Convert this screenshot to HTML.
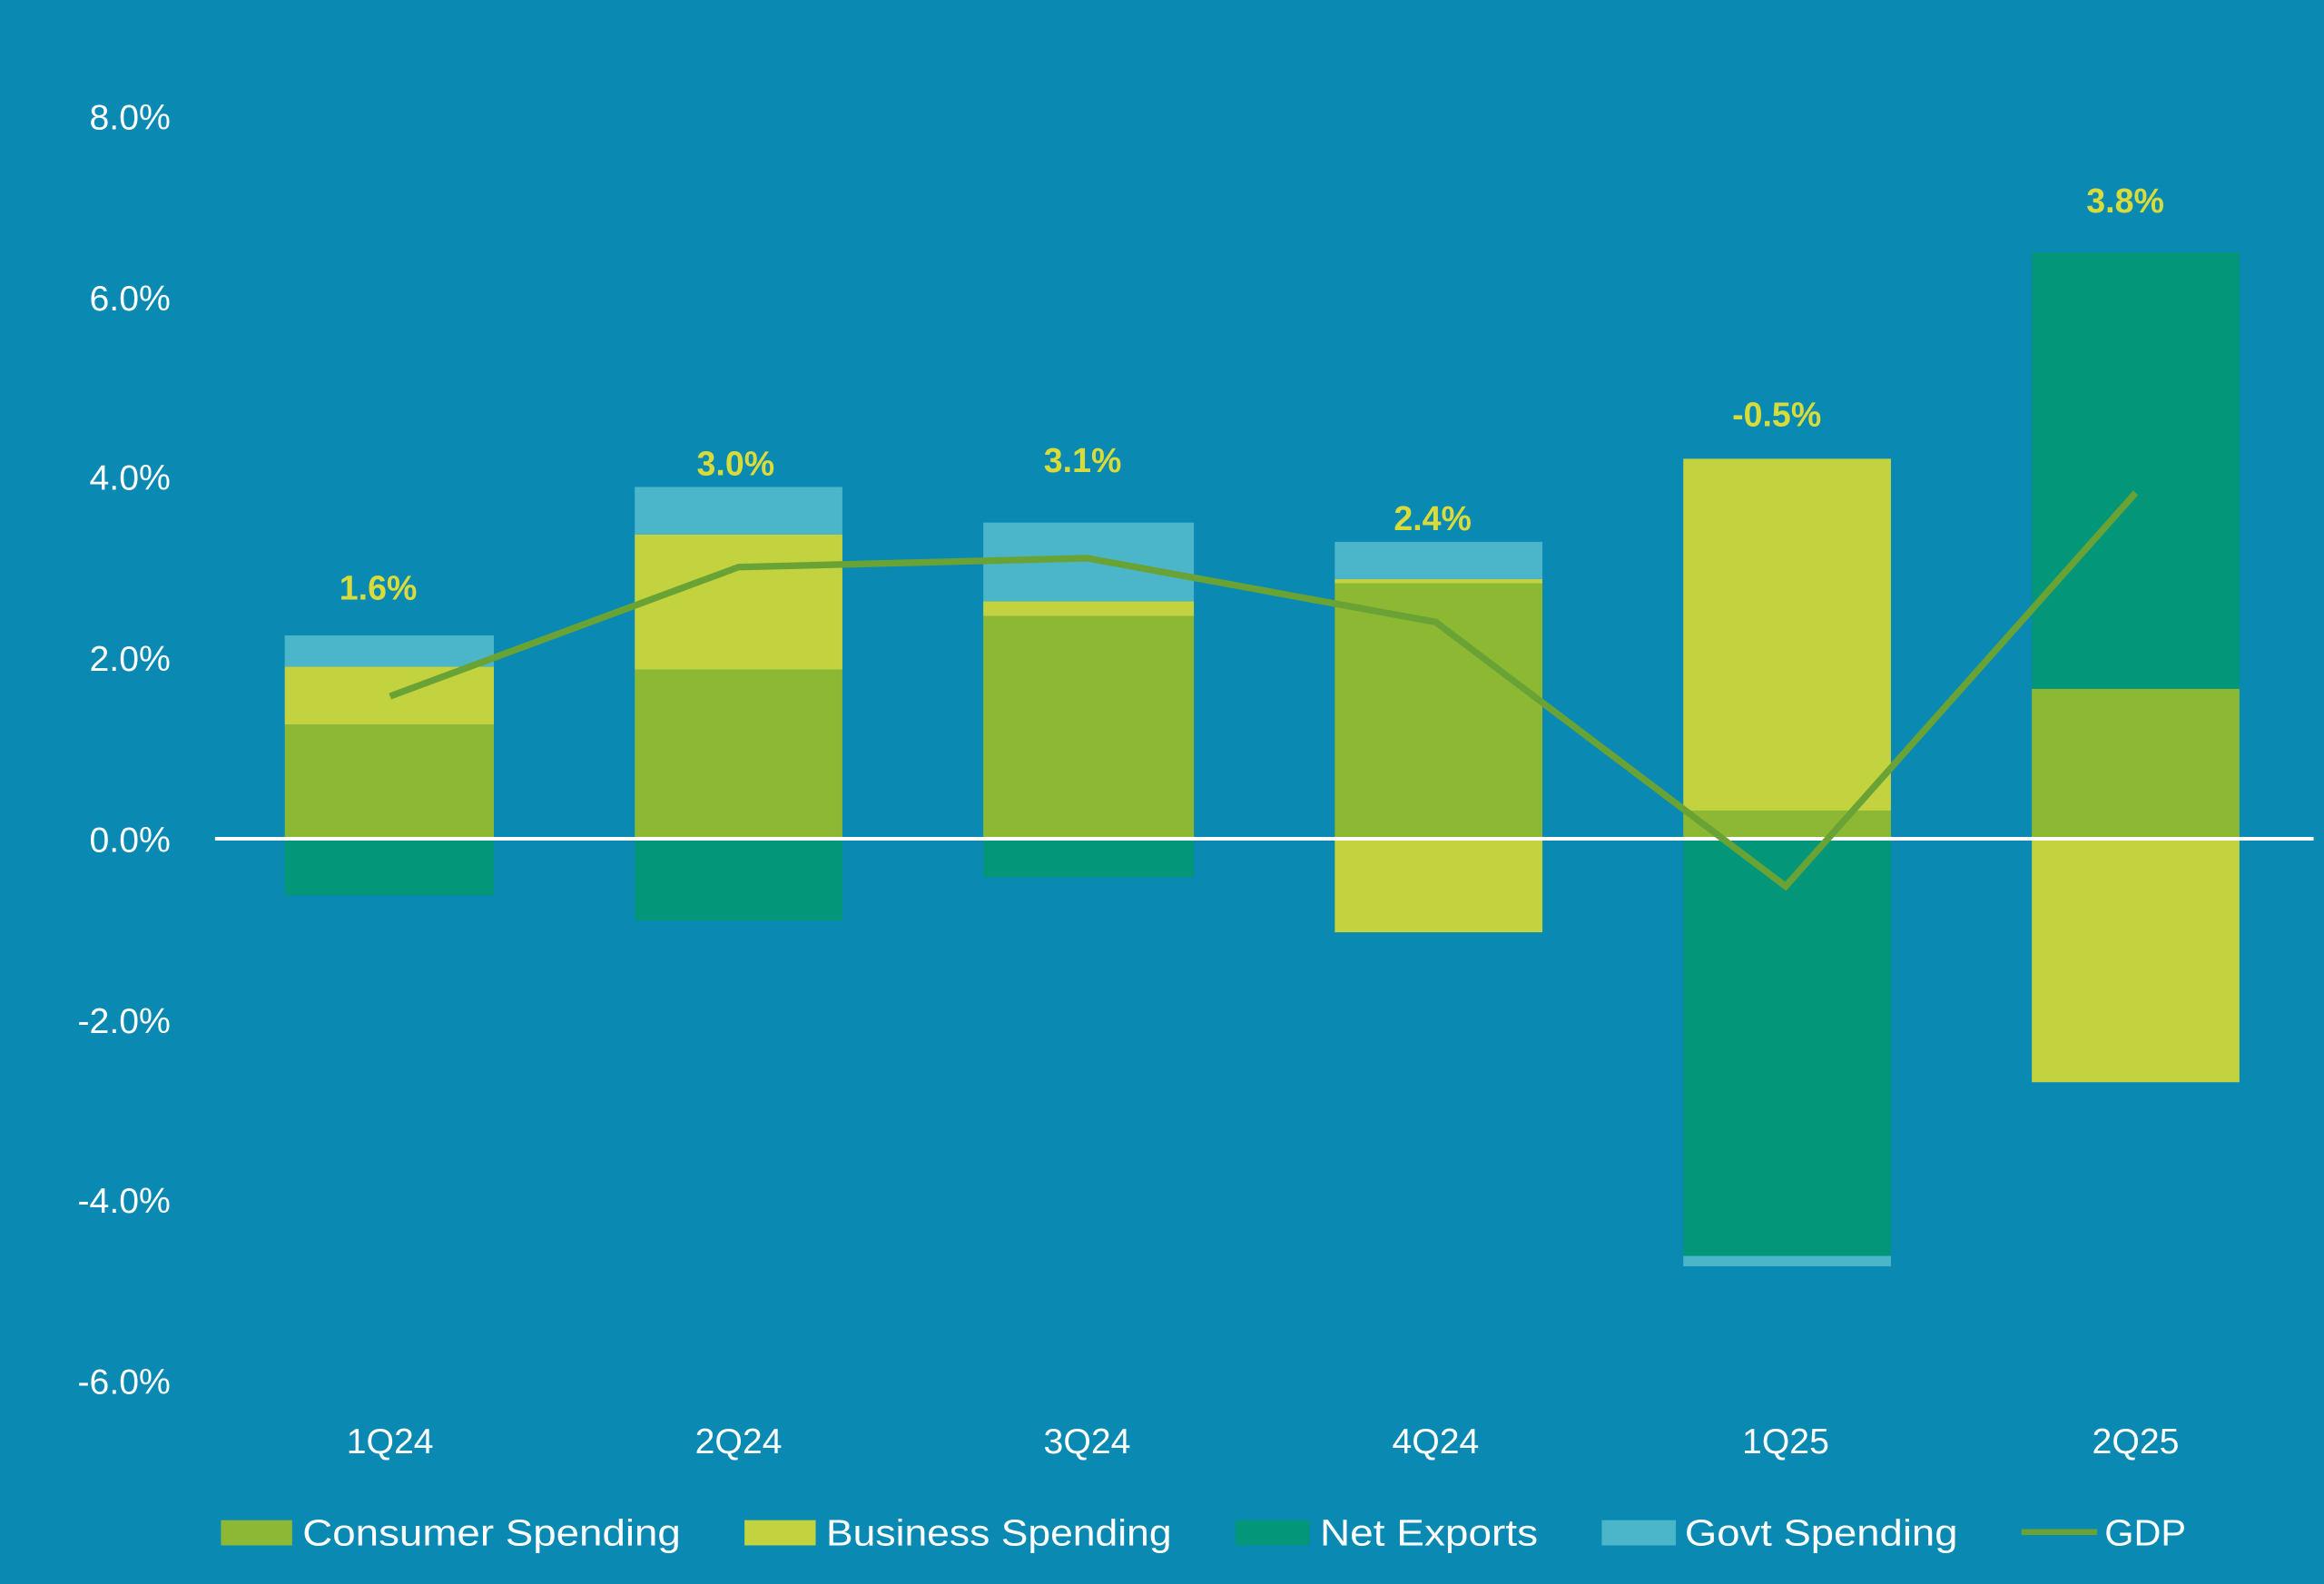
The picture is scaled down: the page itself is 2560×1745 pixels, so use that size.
<!DOCTYPE html>
<html><head><meta charset="utf-8"><style>
html,body{margin:0;padding:0;background:#0a89b3;}
svg{display:block}
text{font-family:"Liberation Sans",sans-serif;}
</style></head><body>
<svg width="2560" height="1745" viewBox="0 0 1567 1067" preserveAspectRatio="none" xmlns="http://www.w3.org/2000/svg">
<rect width="1567" height="1067" fill="#0a89b3"/>
<g fill="#ffffff" font-size="24" text-anchor="end">
<text x="115" y="87">8.0%</text>
<text x="115" y="209">6.0%</text>
<text x="115" y="330">4.0%</text>
<text x="115" y="452">2.0%</text>
<text x="115" y="574">0.0%</text>
<text x="115" y="696">-2.0%</text>
<text x="115" y="817">-4.0%</text>
<text x="115" y="939">-6.0%</text>
</g>
<rect x="192" y="488" width="141" height="77" fill="#8cb833"/>
<rect x="192" y="449" width="141" height="39" fill="#c3d23f"/>
<rect x="192" y="428" width="141" height="21" fill="#4bb5c9"/>
<rect x="192" y="565" width="141" height="38" fill="#049679"/>
<rect x="428" y="451" width="140" height="114" fill="#8cb833"/>
<rect x="428" y="360" width="140" height="91" fill="#c3d23f"/>
<rect x="428" y="328" width="140" height="32" fill="#4bb5c9"/>
<rect x="428" y="565" width="140" height="55" fill="#049679"/>
<rect x="663" y="415" width="142" height="150" fill="#8cb833"/>
<rect x="663" y="405" width="142" height="10" fill="#c3d23f"/>
<rect x="663" y="352" width="142" height="53" fill="#4bb5c9"/>
<rect x="663" y="565" width="142" height="26" fill="#049679"/>
<rect x="900" y="393" width="140" height="172" fill="#8cb833"/>
<rect x="900" y="390" width="140" height="3" fill="#c3d23f"/>
<rect x="900" y="365" width="140" height="25" fill="#4bb5c9"/>
<rect x="900" y="565" width="140" height="63" fill="#c3d23f"/>
<rect x="1135" y="546" width="140" height="19" fill="#8cb833"/>
<rect x="1135" y="309" width="140" height="237" fill="#c3d23f"/>
<rect x="1135" y="565" width="140" height="281" fill="#049679"/>
<rect x="1135" y="846" width="140" height="7" fill="#4bb5c9"/>
<rect x="1370" y="464" width="140" height="101" fill="#8cb833"/>
<rect x="1370" y="170" width="140" height="294" fill="#049679"/>
<rect x="1370" y="565" width="140" height="164" fill="#c3d23f"/>
<line x1="145" y1="565" x2="1560" y2="565" stroke="#ffffff" stroke-width="2.5"/>
<polyline points="263,469 498,382 733,376 968,419 1204,597 1440,332" fill="none" stroke="#6aa335" stroke-width="4.5"/>
<g fill="#d8dc3a" font-size="23" font-weight="bold" text-anchor="middle">
<text x="255" y="404">1.6%</text>
<text x="496" y="320">3.0%</text>
<text x="730" y="318">3.1%</text>
<text x="966" y="357">2.4%</text>
<text x="1198" y="287">-0.5%</text>
<text x="1433" y="143">3.8%</text>
</g>
<g fill="#ffffff" font-size="24" text-anchor="middle">
<text x="263" y="979">1Q24</text>
<text x="498" y="979">2Q24</text>
<text x="733" y="979">3Q24</text>
<text x="968" y="979">4Q24</text>
<text x="1204" y="979">1Q25</text>
<text x="1440" y="979">2Q25</text>
</g>
<g font-size="25" fill="#ffffff">
<rect x="149" y="1024" width="48" height="17" fill="#8cb833"/>
<text x="204" y="1041" textLength="255" lengthAdjust="spacingAndGlyphs">Consumer Spending</text>
<rect x="502" y="1024" width="48" height="17" fill="#c3d23f"/>
<text x="557" y="1041" textLength="233" lengthAdjust="spacingAndGlyphs">Business Spending</text>
<rect x="833" y="1024" width="50" height="17" fill="#049679"/>
<text x="890" y="1041" textLength="147" lengthAdjust="spacingAndGlyphs">Net Exports</text>
<rect x="1080" y="1024" width="50" height="17" fill="#4bb5c9"/>
<text x="1136" y="1041" textLength="184" lengthAdjust="spacingAndGlyphs">Govt Spending</text>
<line x1="1363" y1="1032" x2="1414" y2="1032" stroke="#6aa335" stroke-width="4"/>
<text x="1419" y="1041" textLength="55" lengthAdjust="spacingAndGlyphs">GDP</text>
</g>
</svg>
</body></html>
